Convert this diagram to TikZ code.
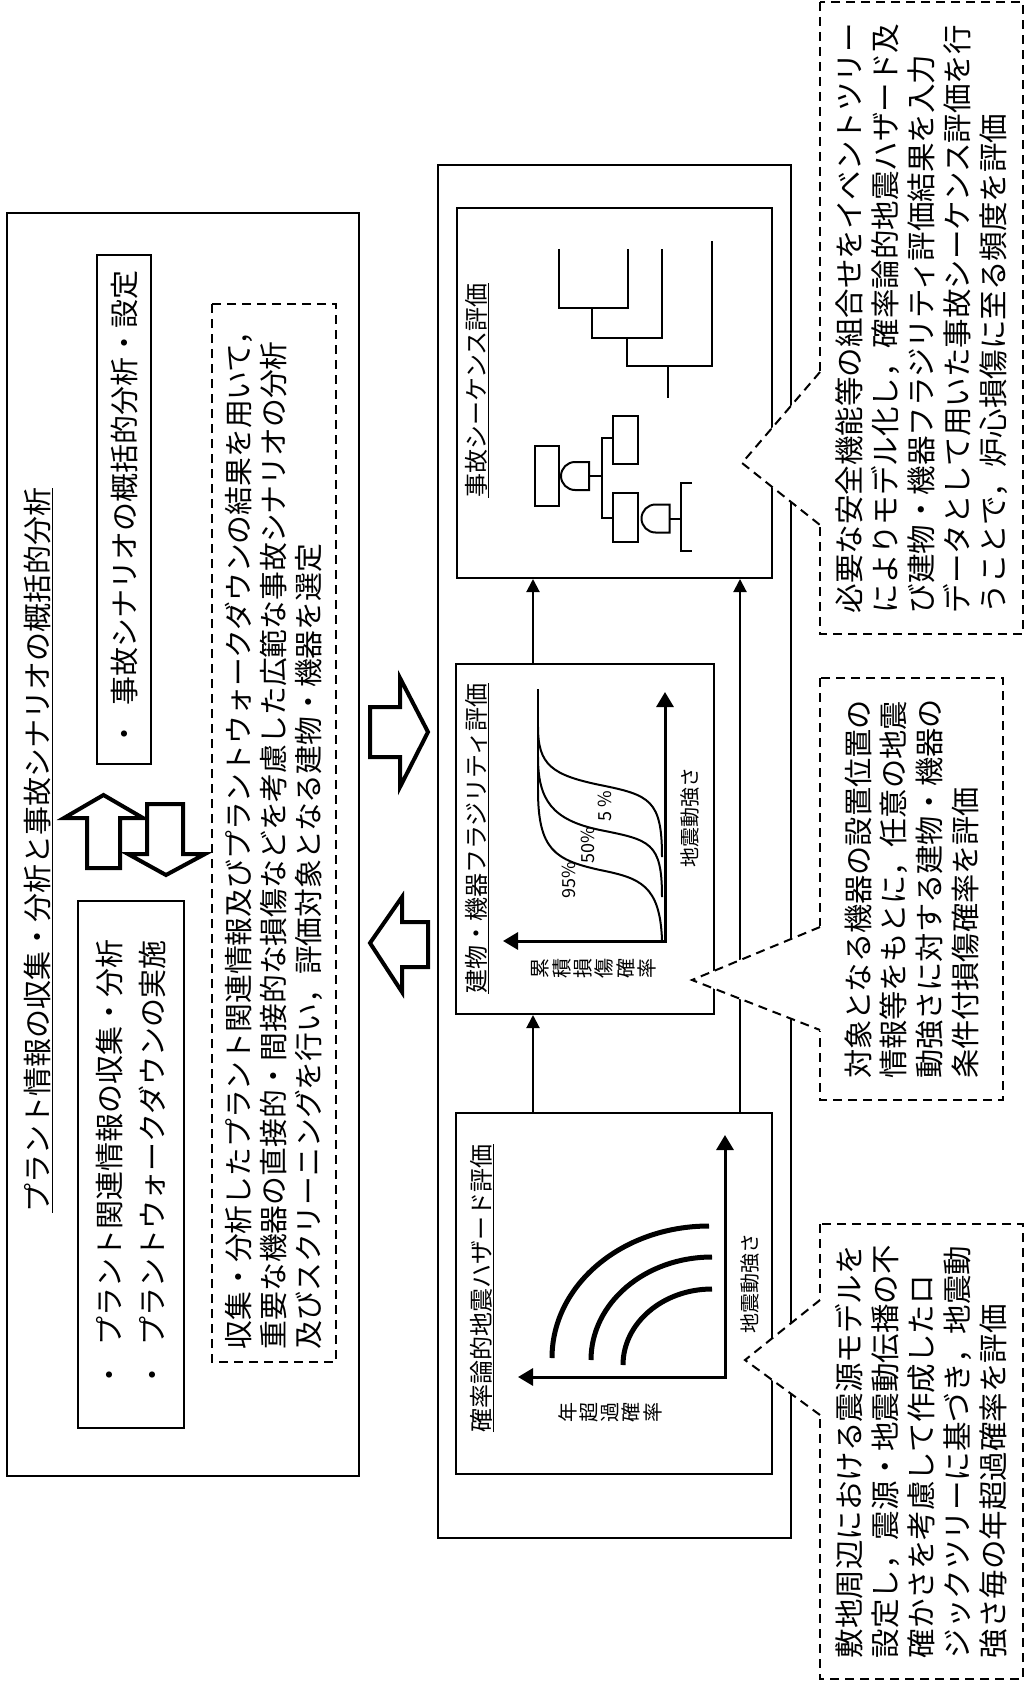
\documentclass[tikz,border=0pt]{standalone}
\usepackage{fontspec}
\setmainfont{Noto Sans CJK JP}
\usetikzlibrary{arrows.meta}

\begin{document}
\begin{tikzpicture}[x=1pt,y=-1pt,
  framebox/.style={rectangle,draw,line width=2pt,inner sep=0pt},
  panel/.style={rectangle,draw,line width=2pt,inner sep=2pt,align=left},
  notebox/.style={rectangle,draw,line width=2pt,dash pattern=on 9pt off 6pt,fill=white,inner sep=2pt,align=left},
  pointer/.style={line width=2pt,dash pattern=on 9pt off 6pt},
  bigtxt/.style={font=\fontsize{29}{36}\selectfont},
  ttl/.style={rotate=90,inner sep=0pt,font=\fontsize{24}{28}\selectfont},
  lbl/.style={rotate=90,inner sep=0pt,font=\fontsize{20}{21.3}\selectfont,align=center},
  pct/.style={rotate=90,inner sep=0pt,font=\fontsize{18}{18}\selectfont},
  arr/.style={-{Triangle[length=13pt,width=13pt]},line width=2pt},
  axisarr/.style={{Triangle[length=15pt,width=17pt]}-{Triangle[length=15pt,width=17pt]},line width=3pt},
  fatarr/.style={draw,line width=4pt,fill=white},
  tree/.style={line width=2pt},
  hzcurve/.style={line width=5pt},
  andgate/.pic={\draw[tree] (14,-14) -- (0,-14) .. controls (-7.7,-14) and (-14,-7.7) .. (-14,0) .. controls (-14,7.7) and (-7.7,14) .. (0,14) -- (14,14) -- cycle;}
]
\useasboundingbox (0,0) rectangle (1025,1685);

% plant information box
\node[framebox,minimum width=352pt,minimum height=1263pt] (plant) at (183,844.5) {};
\node[rotate=90,inner sep=0pt,bigtxt] (planttitle) at (38,850) {\underline{プラント情報の収集・分析と事故シナリオの概括的分析}};
\node[panel,rotate=90,font=\fontsize{29}{43}\selectfont,minimum width=527pt,minimum height=106pt] (walk) at (131,1164.5) {・\hspace{.5em}プラント関連情報の収集・分析\\・\hspace{.5em}プラントウォークダウンの実施};
\node[panel,rotate=90,bigtxt,minimum width=509pt,minimum height=54pt] (scen) at (124,509.5) {・\hspace{.5em}事故シナリオの概括的分析・設定};
\node[notebox,rotate=90,font=\fontsize{28.8}{35}\selectfont,minimum width=1058pt,minimum height=124pt] (screen) at (274,833) {収集・分析したプラント関連情報及びプラントウォークダウンの結果を用いて，\\重要な機器の直接的・間接的な損傷などを考慮した広範な事故シナリオの分析\\及びスクリーニングを行い，評価対象となる建物・機器を選定};
\draw[fatarr] (87,868) -- (87,818) -- (64,818) -- (103.5,795) -- (143,818) -- (120,818) -- (120,868) -- cycle;
\draw[fatarr] (147,804) -- (183,804) -- (183,854) -- (205,854) -- (166,875) -- (128,854) -- (147,854) -- cycle;

% exchange between the two sides
\draw[fatarr] (370,707) -- (400,707) -- (400,678) -- (428,732) -- (400,787) -- (400,757) -- (370,757) -- cycle;
\draw[fatarr] (428,922) -- (402,922) -- (402,897) -- (370,943) -- (402,992) -- (402,967) -- (428,967) -- cycle;

% PRA box
\node[framebox,minimum width=353pt,minimum height=1373pt] (pra) at (614.5,851.5) {};
\node[framebox,minimum width=315pt,minimum height=370pt] (seq) at (614.5,393) {};
\node[framebox,minimum width=258pt,minimum height=350pt] (frag) at (585,839) {};
\node[framebox,minimum width=316pt,minimum height=361pt] (haz) at (614,1293.5) {};
\node[ttl] (seqttl) at (477,390.5) {\underline{事故シーケンス評価}};
\node[ttl] (fragttl) at (477,838.5) {\underline{建物・機器フラジリティ評価}};
\node[ttl] (hazttl) at (482,1288) {\underline{確率論的地震ハザード評価}};

% event tree
\draw[tree] (559,249) -- (559,308) -- (628,308) -- (628,249);
\draw[tree] (592,308) -- (592,338) -- (662,338) -- (662,249);
\draw[tree] (627,338) -- (627,366) -- (712,366) -- (712,241);
\draw[tree] (668,366) -- (668,398);
% fault tree
\draw[tree] (535,446) rectangle (559,506);
\pic at (575,476) {andgate};
\draw[tree] (589,476) -- (602,476);
\draw[tree] (613,438) -- (602,438) -- (602,518) -- (613,518);
\draw[tree] (613,416) rectangle (638,464);
\draw[tree] (613,493) rectangle (638,542);
\pic at (655.5,518.5) {andgate};
\draw[tree] (669.5,518.5) -- (681,518.5);
\draw[tree] (692,483) -- (681,483) -- (681,551) -- (692,551);

% fragility curves
\draw[axisarr] (503,941) -- (665,941) -- (665,692);
\draw[tree] (538,689) -- (538,790);
\draw[tree] (662,857) .. controls (662,800) and (650,795) .. (600,785) .. controls (552,775) and (538,765) .. (538,727);
\draw[tree] (662,897) .. controls (662,842) and (650,840) .. (600,830) .. controls (552,820) and (538,800) .. (538,757);
\draw[tree] (662,940) .. controls (660,885) and (640,878) .. (600,870) .. controls (555,860) and (538,850) .. (538,790);
\node[pct] (p5) at (605,806) {5 \%};
\node[pct] (p50) at (588,845) {50\%};
\node[pct] (p95) at (569,880) {95\%};
\node[lbl] (fragx) at (690,817) {地震動強さ};
\node[lbl] (fragy) at (594,968) {累\\積\\損\\傷\\確\\率};

% hazard curves
\draw[axisarr] (518,1377) -- (725,1377) -- (725,1135);
\draw[hzcurve] (552,1358) .. controls (552,1285) and (622,1226) .. (709,1226);
\draw[hzcurve] (591,1360) .. controls (591,1303) and (645,1257) .. (712,1257);
\draw[hzcurve] (623,1365) .. controls (623,1323) and (663,1289) .. (712,1289);
\node[lbl] (hazx) at (750,1283) {地震動強さ};
\node[lbl] (hazy) at (610,1412) {年\\超\\過\\確\\率};

% flow
\coordinate (lane1) at (533,0);
\coordinate (lane2) at (740,0);
\draw[arr] (haz.north -| lane1) -- (frag.south -| lane1);
\draw[arr] (frag.north -| lane1) -- (seq.south -| lane1);
\draw[arr] (haz.north -| lane2) -- (seq.south -| lane2);

% notes
\node[notebox,rotate=90,font=\fontsize{29.5}{36}\selectfont,minimum width=632pt,minimum height=203pt] (seqnote) at (921.5,318) {必要な安全機能等の組合せをイベントツリー\\によりモデル化し，確率論的地震ハザード及\\び建物・機器フラジリティ評価結果を入力\\データとして用いた事故シーケンス評価を行\\うことで，炉心損傷に至る頻度を評価};
\fill[white] (823,369) -- (742,463) -- (823,528) -- cycle;
\draw[pointer] (820,372) -- (742,463) -- (820,525);

\node[notebox,rotate=90,font=\fontsize{29.2}{35.7}\selectfont,minimum width=422pt,minimum height=183pt] (fragnote) at (911.5,889) {対象となる機器の設置位置の\\情報等をもとに，任意の地震\\動強さに対する建物・機器の\\条件付損傷確率を評価};
\fill[white] (823,925) -- (692,980) -- (823,1032) -- cycle;
\draw[pointer] (820,927) -- (692,980) -- (820,1030);

\node[notebox,rotate=90,font=\fontsize{29.5}{36}\selectfont,minimum width=455pt,minimum height=203pt] (haznote) at (921.5,1451.5) {敷地周辺における震源モデルを\\設定し，震源・地震動伝播の不\\確かさを考慮して作成したロ\\ジックツリーに基づき，地震動\\強さ毎の年超過確率を評価};
\fill[white] (823,1297) -- (745,1360) -- (823,1418) -- cycle;
\draw[pointer] (820,1300) -- (745,1360) -- (820,1415);
\end{tikzpicture}
\end{document}
